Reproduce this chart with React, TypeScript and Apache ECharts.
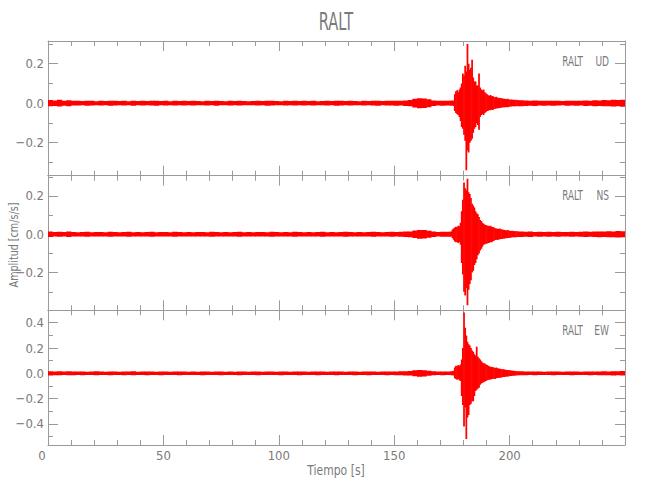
import React, { useEffect, useRef } from "react";
import * as echarts from "echarts";

// ---------------- data (amplitudes in 0.001 cm/s/s) ----------------
// Noise envelope half-width, 2 s bins, t = 0..174 s
const udPre = [16, 14, 17, 13, 15, 12,
  12, 11, 13, 12, 10, 12, 11, 13, 12, 11, 12, 10, 13, 11, 12, 11, 12, 13, 11, 12, 10, 12, 11, 12, 11,
  12, 11, 10, 12, 11, 13, 11, 10, 12, 11, 12, 11, 10, 11, 12, 11, 13, 12, 11, 10, 12, 11, 12, 11, 12,
  11, 12, 10, 11, 12, 11, 13, 12, 11, 12, 11, 10, 12, 11, 12, 13, 11, 12, 12, 13, 12, 14,
  16, 22, 25, 24, 20, 14, 12, 13, 12];
const nsPre = [14, 12, 13, 12, 14, 12,
  11, 12, 13, 11, 12, 12, 11, 13, 12, 11, 12, 13, 11, 12, 11, 12, 13, 11, 12, 12, 11, 13, 12, 11, 12,
  11, 12, 12, 11, 13, 12, 11, 12, 11, 12, 13, 11, 12, 11, 12, 12, 11, 13, 12, 11, 12, 11, 13, 12, 11,
  12, 11, 12, 13, 11, 12, 11, 12, 13, 12, 11, 12, 11, 12, 13, 12, 11, 12, 13, 12, 13, 14,
  15, 20, 23, 22, 18, 14, 12, 13, 13];
const ewPre = [17, 15, 16, 14, 16, 15,
  14, 15, 13, 14, 16, 14, 13, 15, 14, 13, 15, 14, 16, 13, 14, 15, 14, 13, 15, 14, 13, 14, 15, 14, 13,
  14, 13, 15, 14, 13, 14, 15, 13, 14, 13, 15, 14, 13, 14, 15, 13, 14, 14, 13, 15, 14, 13, 14, 15, 14,
  13, 14, 15, 14, 13, 14, 15, 14, 13, 14, 15, 13, 14, 15, 14, 13, 14, 15, 14, 15, 16, 17,
  18, 24, 27, 25, 20, 16, 14, 15, 14];

// Main arrival, 0.5 s bins, t = 174..204 s : upper and lower peaks
const udHi = [13, 12, 14, 13, 45, 60, 65, 55, 70, 80, 100, 150, 140, 190, 160, 300, 200, 170, 180, 220,
  130, 110, 110, 90, 90, 150, 80, 70, 65, 70, 55, 50, 45, 40, 38, 42, 35, 36, 32, 30,
  33, 28, 27, 25, 26, 24, 22, 23, 21, 20, 22, 19, 18, 19, 17, 18, 16, 17, 15, 16];
const udLo = [-12, -13, -12, -14, -40, -50, -55, -60, -70, -90, -120, -130, -160, -190, -340, -240, -250, -200, -190, -180,
  -150, -130, -120, -100, -110, -135, -70, -60, -55, -60, -50, -45, -40, -38, -35, -36, -32, -34, -30, -28,
  -27, -26, -25, -24, -23, -22, -21, -20, -20, -19, -20, -18, -17, -17, -16, -16, -15, -15, -14, -15];
const nsHi = [13, 14, 25, 30, 35, 40, 38, 45, 42, 60, 120, 180, 270, 240, 230, 290, 220, 210, 190, 160,
  150, 140, 120, 110, 105, 90, 75, 70, 60, 55, 50, 48, 45, 44, 42, 45, 40, 38, 35, 32,
  30, 29, 28, 30, 26, 25, 24, 22, 21, 20, 22, 19, 18, 17, 18, 16, 17, 15, 16, 15];
const nsLo = [-13, -12, -20, -28, -38, -42, -40, -45, -40, -55, -150, -210, -300, -320, -280, -370, -290, -260, -240, -200,
  -190, -160, -150, -130, -110, -100, -85, -75, -65, -55, -52, -50, -48, -45, -44, -40, -42, -36, -34, -30,
  -28, -30, -27, -26, -25, -24, -22, -23, -20, -21, -19, -18, -18, -17, -16, -16, -15, -15, -14, -14];
const ewHi = [15, 14, 18, 20, 45, 60, 55, 65, 60, 70, 110, 200, 480, 360, 300, 250, 230, 220, 200, 180,
  170, 150, 140, 210, 130, 120, 110, 95, 85, 80, 78, 70, 65, 60, 55, 50, 52, 48, 45, 42,
  45, 40, 38, 36, 35, 33, 32, 30, 28, 27, 26, 25, 24, 22, 21, 20, 19, 18, 17, 16];
const ewLo = [-14, -15, -16, -18, -40, -45, -50, -45, -55, -60, -180, -250, -420, -270, -520, -350, -330, -250, -240, -220,
  -220, -180, -140, -130, -120, -115, -90, -80, -75, -70, -65, -60, -55, -50, -50, -48, -45, -45, -42, -44,
  -40, -38, -36, -35, -34, -32, -30, -30, -27, -26, -25, -24, -22, -21, -20, -19, -18, -17, -16, -16];

// Coda / noise envelope half-width, 2 s bins, t = 204..250 s
const udPost = [15, 14, 13, 14, 12, 13, 12, 13, 12, 11, 13, 12, 13, 12, 14, 13, 15, 14, 16, 15, 17, 16, 18];
const nsPost = [14, 13, 14, 12, 13, 12, 13, 12, 13, 12, 12, 13, 12, 13, 14, 13, 14, 15, 14, 16, 15, 17, 16];
const ewPost = [16, 15, 14, 15, 14, 13, 14, 15, 14, 13, 14, 15, 14, 13, 14, 15, 14, 15, 16, 15, 17, 16, 18];

const components = ["UD", "NS", "EW"];
const station = "RALT";
const yMins = [-0.367, -0.397, -0.567];
const yMaxs = [0.315, 0.306, 0.498];
const yMajors = [[-0.2, 0, 0.2], [-0.2, 0, 0.2], [-0.4, -0.2, 0, 0.2, 0.4]];
const yMinors = [[-0.3, -0.1, 0.1, 0.3], [-0.3, -0.1, 0.1, 0.3], [-0.5, -0.3, -0.1, 0.1, 0.3]];
const xMax = 250;

// ---------------- layout / style ----------------
const FONT = "'Liberation Sans Narrow', 'DejaVu Sans Condensed', 'Liberation Sans', sans-serif";
const AXIS_COLOR = "#9a9a9a";
const TEXT_COLOR = "#7a7a7a";
const LEFT = 48;
const RIGHT = 25;
const TOP = 41;
const PANEL_H = 134.67;

// bins: [tStart, tEnd, low, high]
function buildBins(pre: number[], hi: number[], lo: number[], post: number[]) {
  const bins: number[][] = [];
  pre.forEach((a, i) => bins.push([i * 2, i * 2 + 2, -a / 1000, a / 1000]));
  hi.forEach((h, i) => bins.push([174 + i * 0.5, 174.5 + i * 0.5, lo[i] / 1000, h / 1000]));
  post.forEach((a, i) => bins.push([204 + i * 2, 206 + i * 2, -a / 1000, a / 1000]));
  return bins;
}

const traces = [
  buildBins(udPre, udHi, udLo, udPost),
  buildBins(nsPre, nsHi, nsLo, nsPost),
  buildBins(ewPre, ewHi, ewLo, ewPost),
];

function fmtY(v: number) {
  const s = Math.abs(v).toFixed(1);
  return v < -1e-9 ? "\u2212" + s : s;
}

function renderBin(params: any, api: any) {
  const p0 = api.coord([api.value(0), api.value(3)]);
  const p1 = api.coord([api.value(1), api.value(2)]);
  return {
    type: "rect",
    shape: { x: p0[0] - 0.3, y: p0[1], width: Math.max(p1[0] - p0[0], 0.5) + 0.6, height: p1[1] - p0[1] },
    style: { fill: "#ff0000" },
  };
}

export default function App() {
  const ref = useRef<HTMLDivElement>(null);
  useEffect(() => {
    if (!ref.current) return;
    const chart = echarts.init(ref.current, undefined, { renderer: "svg" });
    const grids: any[] = [];
    const xAxes: any[] = [];
    const yAxes: any[] = [];
    const series: any[] = [];
    const graphics: any[] = [];

    components.forEach((comp, g) => {
      const top = TOP + g * PANEL_H;
      grids.push({ left: LEFT, right: RIGHT, top, height: PANEL_H });
      const line = { show: true, onZero: false, lineStyle: { color: AXIS_COLOR, width: 1 } };
      const noLine = { show: false, onZero: false };
      ["bottom", "top"].forEach((pos) => {
        xAxes.push({
          gridIndex: g, type: "value", min: 0, max: xMax, interval: 50, position: pos,
          axisLine: line,
          axisTick: { show: true, inside: true, length: 10, lineStyle: { color: AXIS_COLOR } },
          axisLabel: {
            show: pos === "bottom" && g === 2, margin: 4, color: TEXT_COLOR, fontSize: 13,
            fontFamily: FONT, showMaxLabel: false,
            formatter: (v: number) => (v >= xMax ? "" : v === 0 ? "{z|0}" : String(v)),
            rich: { z: { padding: [0, 12, 0, 0], color: TEXT_COLOR, fontSize: 13, fontFamily: FONT } },
          },
          splitLine: { show: false },
        });
        xAxes.push({
          gridIndex: g, type: "value", min: 0, max: xMax, interval: 10, position: pos,
          axisLine: noLine,
          axisTick: { show: true, inside: true, length: 5, lineStyle: { color: AXIS_COLOR } },
          axisLabel: { show: false },
          splitLine: { show: false },
        });
      });
      ["left", "right"].forEach((pos) => {
        yAxes.push({
          gridIndex: g, type: "value", min: yMins[g], max: yMaxs[g], position: pos,
          axisLine: line,
          axisTick: { show: true, inside: true, length: 10, customValues: yMajors[g], lineStyle: { color: AXIS_COLOR } },
          axisLabel: {
            show: pos === "left", customValues: yMajors[g], margin: 4, color: TEXT_COLOR,
            fontSize: 13, fontFamily: FONT, formatter: fmtY,
          },
          splitLine: { show: false },
        });
        yAxes.push({
          gridIndex: g, type: "value", min: yMins[g], max: yMaxs[g], position: pos,
          axisLine: noLine,
          axisTick: { show: true, inside: true, length: 5, customValues: yMinors[g], lineStyle: { color: AXIS_COLOR } },
          axisLabel: { show: false },
          splitLine: { show: false },
        });
      });
      series.push({
        type: "custom",
        xAxisIndex: g * 4,
        yAxisIndex: g * 4,
        data: traces[g],
        encode: { x: [0, 1], y: [2, 3] },
        renderItem: renderBin,
        clip: true,
      });
      const ly = top + 20;
      graphics.push({
        type: "text", x: 583, y: ly, scaleX: 0.7,
        style: { text: station, fontSize: 14, fontFamily: FONT, fill: TEXT_COLOR, textAlign: "right", textVerticalAlign: "middle" },
      });
      graphics.push({
        type: "text", x: 609, y: ly, scaleX: 0.72,
        style: { text: comp, fontSize: 14, fontFamily: FONT, fill: TEXT_COLOR, textAlign: "right", textVerticalAlign: "middle" },
      });
    });

    graphics.push({
      type: "text", x: 336, y: 22, scaleX: 0.68,
      style: { text: station, fontSize: 24, fontFamily: FONT, fill: TEXT_COLOR, textAlign: "center", textVerticalAlign: "middle" },
    });
    graphics.push({
      type: "text", x: 336, y: 470, scaleX: 0.86,
      style: { text: "Tiempo [s]", fontSize: 14, fontFamily: FONT, fill: TEXT_COLOR, textAlign: "center", textVerticalAlign: "middle" },
    });
    graphics.push({
      type: "text", x: 14, y: 245, rotation: Math.PI / 2, scaleX: 0.82,
      style: { text: "Amplitud [cm/s/s]", fontSize: 13, fontFamily: FONT, fill: TEXT_COLOR, textAlign: "center", textVerticalAlign: "middle" },
    });

    chart.setOption({
      animation: false,
      backgroundColor: "#ffffff",
      grid: grids,
      xAxis: xAxes,
      yAxis: yAxes,
      series,
      graphic: graphics,
    });
    return () => chart.dispose();
  }, []);
  return <div ref={ref} style={{ position: "fixed", left: 0, top: 0, width: 650, height: 500 }} />;
}
